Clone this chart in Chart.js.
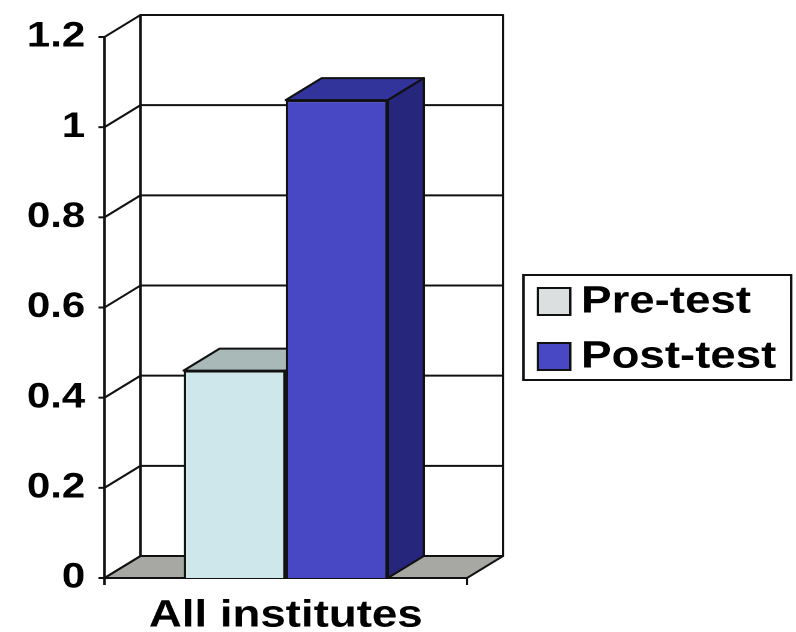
<!DOCTYPE html>
<html>
<head>
<meta charset="utf-8">
<script src="https://cdn.jsdelivr.net/npm/chart.js@4/dist/chart.umd.min.js"></script>
<style>
  html, body { margin: 0; padding: 0; background: #fff; overflow: hidden; }
  /* the original picture is stretched sideways, so the chart is too */
  #wrap { width: 663px; height: 632px; transform: scaleX(1.2006); transform-origin: 0 0; }
</style>
</head>
<body>
<div id="wrap"><canvas id="chart" width="663" height="632"></canvas></div>
<script>
// data
const categories = ['All institutes'];
const preTest = [0.46];
const postTest = [1.06];
const yTickLabels = ['0', '0.2', '0.4', '0.6', '0.8', '1', '1.2'];

const FONT = "'Liberation Sans', Arial, sans-serif";
const depth = { x: 30, y: -22 }; // fake 3D offset

function poly(ctx, pts, fill) {
    ctx.beginPath();
    ctx.moveTo(pts[0][0], pts[0][1]);
    for (let i = 1; i < pts.length; i++) ctx.lineTo(pts[i][0], pts[i][1]);
    ctx.closePath();
    if (fill) { ctx.fillStyle = fill; ctx.fill(); }
    ctx.stroke();
}

function line(ctx, x0, y0, x1, y1) {
    ctx.beginPath();
    ctx.moveTo(x0, y0);
    ctx.lineTo(x1, y1);
    ctx.stroke();
}

// Draws the walls, floor, bar tops/sides and the boxed legend
const threeD = {
    id: 'threeD',
    beforeDatasetsDraw(chart) {
        const ctx = chart.ctx;
        const a = chart.chartArea;
        const y = chart.scales.y;
        const dx = depth.x, dy = depth.y;
        const L = a.left, R = a.right, T = a.top, B = a.bottom;

        ctx.save();
        ctx.strokeStyle = '#111';
        ctx.lineWidth = 2;
        ctx.lineJoin = 'round';

        // floor
        poly(ctx, [[L, B], [R, B], [R + dx, B + dy], [L + dx, B + dy]], '#a7a8a3');

        // back wall + gridlines, side wall lines, tick marks
        ctx.strokeRect(L + dx, T + dy, R - L, B - T);
        y.ticks.forEach(t => {
            const py = y.getPixelForValue(t.value);
            line(ctx, L + dx, py + dy, R + dx, py + dy);
            line(ctx, L, py, L + dx, py + dy);
            line(ctx, L - 5, py, L, py);
        });
        line(ctx, L, T, L, B);
        line(ctx, L, B, L, B + 7);
        line(ctx, R, B, R, B + 7);

        // bar sides and tops (front faces come from Chart.js)
        chart.data.datasets.forEach((ds, i) => {
            chart.getDatasetMeta(i).data.forEach(bar => {
                const x0 = bar.x - bar.width / 2;
                const x1 = bar.x + bar.width / 2;
                const top = bar.y, base = bar.base;
                poly(ctx, [[x1, top], [x1 + dx, top + dy], [x1 + dx, base + dy], [x1, base]], ds.sideColor);
                poly(ctx, [[x0, top], [x1, top], [x1 + dx, top + dy], [x0 + dx, top + dy]], ds.topColor);
            });
        });
        ctx.restore();
    },
    afterDraw(chart) {
        const ctx = chart.ctx;
        ctx.save();
        ctx.strokeStyle = '#111';
        ctx.lineWidth = 2;
        ctx.strokeRect(436, 275, 223, 105);

        ctx.font = 'bold 38px ' + FONT;
        ctx.textBaseline = 'middle';
        ctx.textAlign = 'left';
        chart.data.datasets.forEach((ds, i) => {
            const cy = 301 + i * 55;
            ctx.fillStyle = ds.legendColor || ds.backgroundColor;
            ctx.fillRect(448, cy - 13, 27, 27);
            ctx.strokeRect(448, cy - 13, 27, 27);
            ctx.fillStyle = '#000';
            ctx.fillText(ds.label, 484, cy + 1);
        });
        ctx.restore();
    }
};

const ctx = document.getElementById('chart').getContext('2d');
const chart = new Chart(ctx, {
    type: 'bar',
    data: {
        labels: categories,
        datasets: [{
            label: 'Pre-test',
            data: preTest,
            backgroundColor: '#cde7eb',
            topColor: '#a9b9b8',
            sideColor: '#9fb0b0',
            legendColor: '#dcdfe0',
            borderColor: '#111',
            borderWidth: 2
        }, {
            label: 'Post-test',
            data: postTest,
            backgroundColor: '#4848c4',
            topColor: '#33339c',
            sideColor: '#26267c',
            borderColor: '#111',
            borderWidth: 2
        }]
    },
    options: {
        responsive: false,
        animation: false,
        devicePixelRatio: 2,
        layout: { padding: { top: 33, right: 274, bottom: 0, left: 0 } },
        plugins: {
            legend: { display: false },
            tooltip: { enabled: false }
        },
        datasets: {
            bar: { categoryPercentage: 0.563, barPercentage: 1 }
        },
        scales: {
            x: {
                grid: { display: false, drawTicks: false },
                border: { display: false },
                ticks: {
                    color: '#000',
                    padding: 15,
                    font: { family: FONT, size: 38, weight: 'bold' }
                },
                afterFit: s => { s.height = 54; }
            },
            y: {
                min: 0,
                max: 1.2,
                grid: { display: false, drawTicks: false },
                border: { display: false },
                ticks: {
                    stepSize: 0.2,
                    color: '#000',
                    padding: 16,
                    font: { family: FONT, size: 35, weight: 'bold' },
                    callback: (v, i) => yTickLabels[i]
                },
                afterFit: s => { s.width = 87; }
            }
        }
    },
    plugins: [threeD]
});
</script>
</body>
</html>
